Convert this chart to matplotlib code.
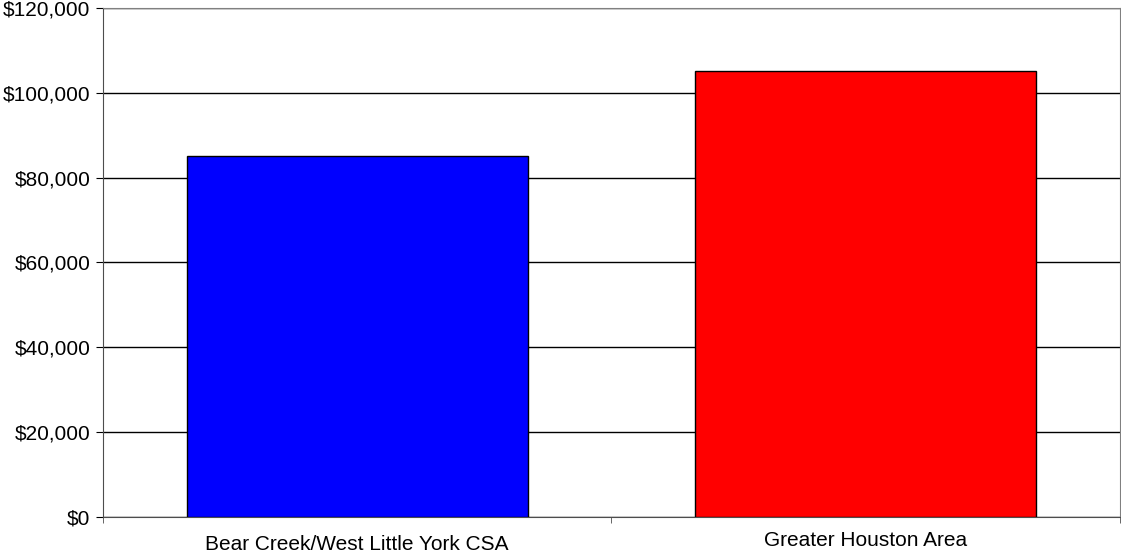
import matplotlib.pyplot as plt
import matplotlib.transforms as mtransforms
from matplotlib.ticker import FuncFormatter, FixedLocator

plt.rcParams['font.family'] = ['Liberation Sans', 'DejaVu Sans']

categories = ["Bear Creek/West Little York CSA", "Greater Houston Area"]
values = [85200, 105200]
colors = ["#0000ff", "#ff0000"]


def main():
    fig = plt.figure(figsize=(11.21, 5.54), dpi=100)
    ax = fig.add_axes([0.0919, 0.0668, 0.9071, 0.9188])

    positions = range(len(categories))
    ax.bar(positions, values, width=0.67, color=colors, edgecolor='black',
           linewidth=1, zorder=3)

    ax.set_xlim(-0.5, len(categories) - 0.5)
    ax.set_ylim(0, 120000)
    ax.set_yticks(range(0, 120001, 20000))
    ax.yaxis.set_major_formatter(FuncFormatter(lambda v, p: f"${v:,.0f}"))
    ax.yaxis.grid(True, color='black', linewidth=1)
    ax.set_axisbelow(True)

    # category labels without ticks, ticks at category boundaries
    ax.set_xticks(list(positions))
    ax.set_xticklabels(categories)
    ax.tick_params(axis='x', which='major', length=0, pad=10, labelsize=15, colors='black')
    ax.xaxis.set_minor_locator(FixedLocator([-0.5, 0.5, 1.5]))
    ax.tick_params(axis='x', which='minor', length=4, direction='out', color='0.3')
    ax.tick_params(axis='y', length=5, direction='out', labelsize=15, pad=4)

    # first label sits a little lower in the original
    lbl = ax.get_xticklabels()[0]
    lbl.set_transform(lbl.get_transform() +
                      mtransforms.ScaledTranslation(0, -3 / 72, fig.dpi_scale_trans))

    ax.spines['left'].set_color('0.3')
    ax.spines['bottom'].set_color('0.3')
    ax.spines['right'].set_color('0.5')
    ax.spines['top'].set_color('0.5')

    fig.savefig("out.png", dpi=100)


if __name__ == "__main__":
    main()
